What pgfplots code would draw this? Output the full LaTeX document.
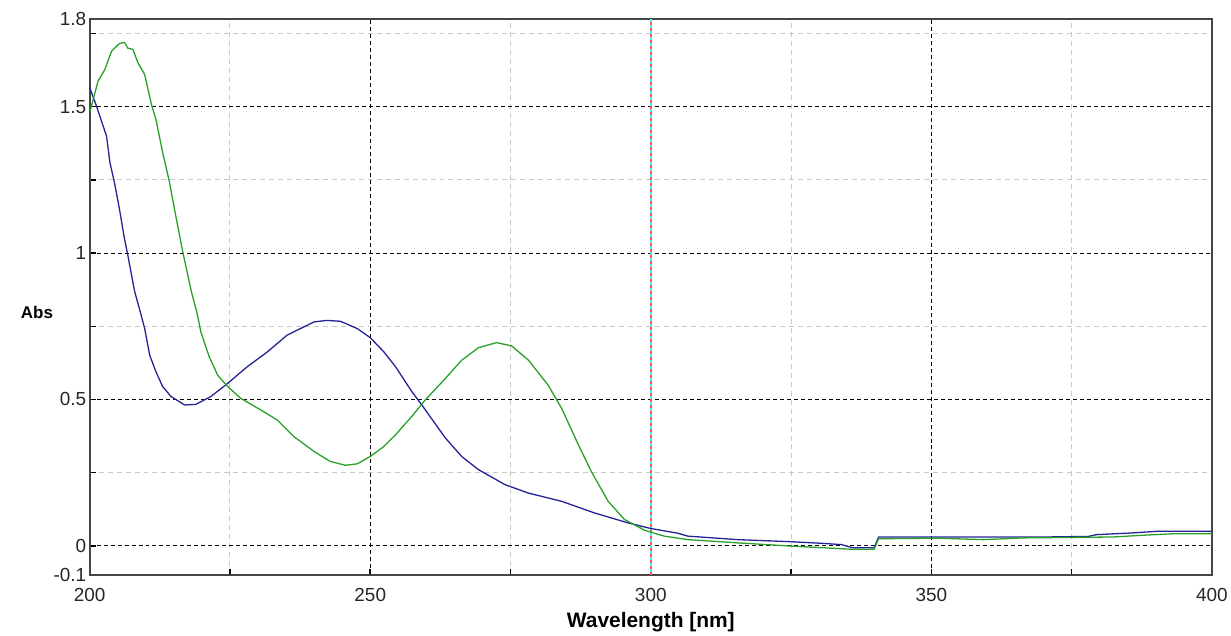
\documentclass[border=0pt]{standalone}
\usepackage{pgfplots}
\pgfplotsset{compat=1.18}
\usepackage{fontspec}
\setmainfont{Liberation Sans}
\definecolor{cblue}{RGB}{35,35,150}
\definecolor{cgreen}{RGB}{40,160,40}
\definecolor{axgray}{RGB}{70,70,70}
\definecolor{gridgray}{RGB}{200,200,200}
\definecolor{ccyan}{RGB}{70,240,250}
\definecolor{cred}{RGB}{255,85,85}
\begin{document}
\begin{tikzpicture}
\begin{axis}[
  scale only axis, width=1126pt, height=558pt,
  xmin=200, xmax=400, ymin=-0.1, ymax=1.8,
  xtick={200,250,300,350,400},
  xticklabels={200,250,300,350,400},
  minor xtick={225,275,325,375},
  ytick={0,0.5,1,1.5},
  yticklabels={0,0.5,1,1.5},
  minor ytick={0.25,0.75,1.25,1.75},
  extra y ticks={-0.1,1.8},
  extra y tick labels={-0.1,1.8},
  extra y tick style={grid=none, major tick length=0pt},
  grid=both,
  major grid style={black, dash pattern=on 4pt off 3pt, line width=1pt},
  minor grid style={gridgray, dash pattern=on 5pt off 4pt, line width=1pt},
  axis line style={axgray, line width=2pt},
  tick style={black, line width=1.5pt},
  major tick length=6pt, minor tick length=6pt,
  tick align=inside,
  xtick pos=bottom, ytick pos=left,
  tick label style={font=\fontsize{19}{21}\selectfont, text=black!85},
  xticklabel style={yshift=-10pt},
  xlabel={\bfseries Wavelength [nm]},
  xlabel style={font=\fontsize{21}{23}\selectfont, at={(axis description cs:0.5,0)}, anchor=base, yshift=-53pt},
  ylabel={\bfseries Abs},
  ylabel style={font=\fontsize{17}{19}\selectfont, rotate=-90, at={(axis description cs:-0.047,0.473)}, anchor=center},
]
\addplot[ccyan, line width=1.6pt, forget plot] coordinates {(300,-0.1)(300,1.8)};
\addplot[cred, line width=1.6pt, dash pattern=on 3pt off 3pt, forget plot] coordinates {(300,-0.1)(300,1.8)};
\addplot[cblue, line width=1.3pt, line join=round] coordinates {
(200,1.565)(201.2,1.503)(202.4,1.434)(203,1.40)(203.6,1.31)(204.4,1.242)(205.3,1.151)(206.2,1.049)(206.8,0.992)(208,0.87)(209,0.80)(209.8,0.742)(210.7,0.651)(211.8,0.595)(213,0.544)(214.5,0.51)(216.9,0.481)(218.9,0.483)(221.6,0.51)(224.6,0.555)(228.1,0.612)(231.7,0.663)(235.2,0.72)(240,0.765)(242.3,0.77)(244.7,0.767)(247.7,0.742)(250,0.711)(252.4,0.663)(254.5,0.612)(257.4,0.527)(259.2,0.481)(263.4,0.368)(266.3,0.305)(269.3,0.26)(274,0.209)(278.2,0.18)(284.1,0.152)(290,0.112)(296,0.078)(300,0.059)(304.8,0.043)(306.6,0.033)(315.5,0.021)(324.9,0.014)(330.9,0.008)(334,0.004)(336,-0.007)(339.8,-0.007)(340.6,0.03)(351,0.03)(370,0.03)(378,0.032)(379.4,0.038)(385.9,0.044)(390.6,0.05)(400,0.05)
};
\addplot[cgreen, line width=1.3pt, line join=round] coordinates {
(200,1.48)(201.5,1.588)(202.7,1.627)(203.9,1.69)(205.3,1.716)(206.2,1.72)(206.8,1.70)(207.7,1.696)(208.6,1.65)(209.8,1.61)(211,1.508)(211.8,1.457)(213,1.344)(214.2,1.244)(215.1,1.151)(216.6,1.003)(218.1,0.87)(219.2,0.79)(219.8,0.731)(221.3,0.646)(222.8,0.583)(224.6,0.544)(226.9,0.504)(230.5,0.464)(233.4,0.43)(236.4,0.373)(240,0.322)(242.9,0.288)(245.6,0.275)(247.7,0.28)(250,0.305)(252.4,0.339)(254.5,0.379)(257.4,0.442)(259.8,0.498)(263.4,0.572)(266.3,0.634)(269.3,0.677)(272.5,0.694)(275.2,0.683)(278.2,0.634)(281.7,0.549)(284.1,0.47)(287.1,0.345)(289.4,0.254)(292.4,0.152)(295.3,0.09)(298.9,0.053)(302.4,0.033)(306.6,0.021)(315.5,0.01)(324.9,-0.001)(336,-0.012)(339.8,-0.012)(340.6,0.024)(351,0.026)(359.3,0.021)(366.4,0.027)(382.3,0.03)(387.7,0.036)(393,0.041)(400,0.041)
};
\end{axis}
\path[use as bounding box] ([xshift=-90pt,yshift=-53pt]current axis.south west) rectangle ([xshift=15pt,yshift=19pt]current axis.north east);
\end{tikzpicture}
\end{document}
